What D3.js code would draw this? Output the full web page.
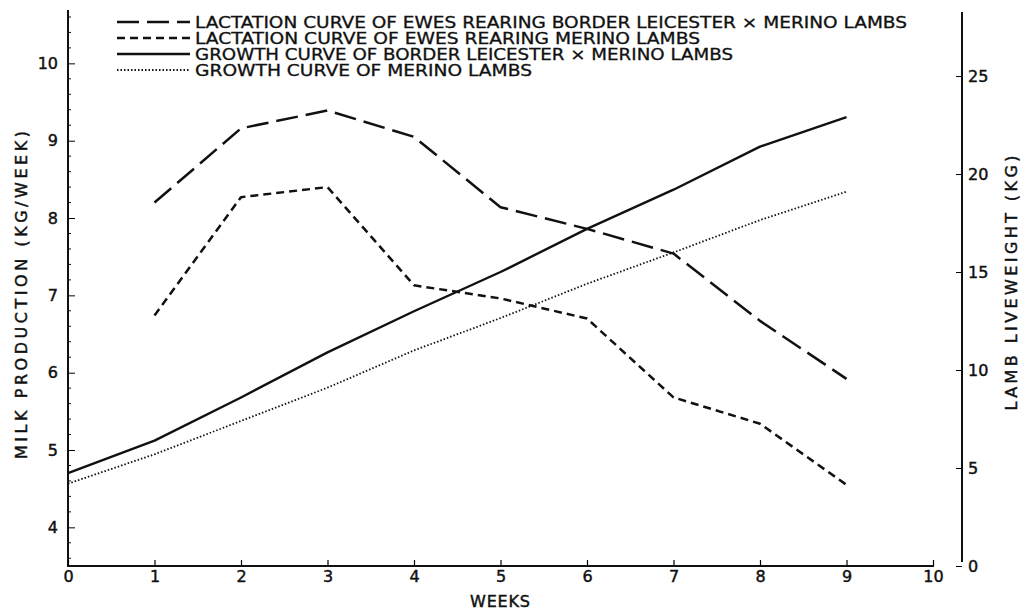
<!DOCTYPE html>
<html>
<head>
<meta charset="utf-8">
<script src="https://cdn.jsdelivr.net/npm/d3@7"></script>
<style>
  body { margin: 0; background: #fff; }
  svg text { font-family: "DejaVu Sans", sans-serif; fill: #111; }
</style>
</head>
<body>
<svg id="chart" width="1030" height="612"></svg>
<script>
// weeks and values
const weeks = [0, 1, 2, 3, 4, 5, 6, 7, 8, 9];
const milkBLxM = [null, 8.2, 9.16, 9.39, 9.05, 8.14, 7.86, 7.54, 6.67, 5.92];
const milkMerino = [null, 6.74, 8.27, 8.4, 7.13, 6.96, 6.7, 5.68, 5.34, 4.55];
const growthBLxM = [4.74, 6.4, 8.6, 10.9, 13.0, 15.0, 17.2, 19.2, 21.4, 22.9];
const growthMerino = [4.2, 5.7, 7.4, 9.1, 11.0, 12.65, 14.4, 16.0, 17.65, 19.1];

const xTicks = [0, 1, 2, 3, 4, 5, 6, 7, 8, 9, 10];
const leftTicks = [4, 5, 6, 7, 8, 9, 10];
const rightTicks = [0, 5, 10, 15, 20, 25];

const legendLabels = [
    "LACTATION CURVE OF EWES REARING BORDER LEICESTER \u00D7 MERINO LAMBS",
    "LACTATION CURVE OF EWES REARING MERINO LAMBS",
    "GROWTH CURVE OF BORDER LEICESTER \u00D7 MERINO LAMBS",
    "GROWTH CURVE OF MERINO LAMBS"
];

const svg = d3.select("#chart");
const ink = "#111";

// scales
const x = d3.scaleLinear().domain([0, 10]).range([68, 933]);
const yLeft = d3.scaleLinear().domain([3.5, 10.69]).range([566, 10]);
const yRight = d3.scaleLinear().domain([0, 28.37]).range([566, 10]);

// thicken text a little, the original lettering is heavy
function inkText(sel) {
    sel.attr("stroke", ink).attr("stroke-width", 0.45);
}

// left axis
const leftAxis = d3.axisLeft(yLeft).tickValues(leftTicks).tickSize(-7).tickPadding(16)
    .tickFormat(d3.format("d"));
const gL = svg.append("g").attr("transform", "translate(68,0)").call(leftAxis);
gL.select(".domain").remove();
gL.selectAll("text").style("font-size", "16px").attr("x", -10).call(inkText);
svg.append("line").attr("x1", 68).attr("x2", 68).attr("y1", 10).attr("y2", 566)
    .attr("stroke", ink).attr("stroke-width", 2);
// minor ticks on left axis
svg.append("g").selectAll("line")
    .data(d3.range(3.6, 10.65, 0.2).filter(v => Math.abs(v - Math.round(v)) > 0.05))
    .join("line")
    .attr("x1", 68).attr("x2", 71)
    .attr("y1", d => yLeft(d)).attr("y2", d => yLeft(d))
    .attr("stroke", ink).attr("stroke-width", 1);

// bottom axis
const bottomAxis = d3.axisBottom(x).tickValues(xTicks).tickSize(-6).tickPadding(5)
    .tickFormat(d3.format("d"));
const gB = svg.append("g").attr("transform", "translate(0,566)").call(bottomAxis);
gB.select(".domain").remove();
gB.selectAll("text").style("font-size", "16px").call(inkText);
gB.selectAll(".tick line").attr("stroke-width", 1.2);
svg.append("line").attr("x1", 67).attr("x2", 934).attr("y1", 566).attr("y2", 566)
    .attr("stroke", ink).attr("stroke-width", 2);

// right axis
const rightAxis = d3.axisRight(yRight).tickValues(rightTicks).tickSize(-6).tickPadding(12)
    .tickFormat(d3.format("d"));
const gR = svg.append("g").attr("transform", "translate(962,0)").call(rightAxis);
gR.select(".domain").remove();
gR.selectAll("text").style("font-size", "16px").attr("x", 6).call(inkText);
svg.append("line").attr("x1", 962).attr("x2", 962).attr("y1", 12).attr("y2", 562)
    .attr("stroke", ink).attr("stroke-width", 2);

// axis titles
svg.append("text")
    .attr("transform", "translate(27,295) rotate(-90)")
    .attr("text-anchor", "middle")
    .attr("textLength", 328).attr("lengthAdjust", "spacing")
    .style("font-size", "16px")
    .call(inkText)
    .text("MILK PRODUCTION  (KG/WEEK)");
svg.append("text")
    .attr("transform", "translate(1017,283) rotate(-90)")
    .attr("text-anchor", "middle")
    .attr("textLength", 255).attr("lengthAdjust", "spacing")
    .style("font-size", "16px")
    .call(inkText)
    .text("LAMB LIVEWEIGHT  (KG)");
svg.append("text")
    .attr("x", 500).attr("y", 607)
    .attr("text-anchor", "middle")
    .attr("textLength", 60).attr("lengthAdjust", "spacing")
    .style("font-size", "16px")
    .call(inkText)
    .text("WEEKS");

// series
const styles = [
    { dash: "22,8", width: 2.5 },
    { dash: "8,5", width: 2.5 },
    { dash: null, width: 2.4 },
    { dash: "1.5,2", width: 1.8 }
];
const series = [
    { values: milkBLxM, y: yLeft },
    { values: milkMerino, y: yLeft },
    { values: growthBLxM, y: yRight },
    { values: growthMerino, y: yRight }
];

series.forEach((s, i) => {
    const pts = weeks.map((w, j) => [w, s.values[j]]).filter(p => p[1] != null);
    const line = d3.line().x(d => x(d[0])).y(d => s.y(d[1]));
    svg.append("path")
        .datum(pts)
        .attr("d", line)
        .attr("fill", "none")
        .attr("stroke", ink)
        .attr("stroke-width", styles[i].width)
        .attr("stroke-dasharray", styles[i].dash)
        .attr("stroke-linejoin", "round");
});

// legend
const legendEnds = [907, 700, 733, 532];
const legend = svg.append("g");
legendLabels.forEach((label, i) => {
    const yy = 22 + i * 16;
    legend.append("line")
        .attr("x1", 117).attr("x2", 190).attr("y1", yy).attr("y2", yy)
        .attr("stroke", ink)
        .attr("stroke-width", styles[i].width)
        .attr("stroke-dasharray", styles[i].dash);
    legend.append("text")
        .attr("x", 195).attr("y", yy + 6)
        .attr("textLength", legendEnds[i] - 195)
        .attr("lengthAdjust", "spacingAndGlyphs")
        .style("font-size", "15px")
        .attr("stroke", ink).attr("stroke-width", 0.3)
        .text(label);
});
</script>
</body>
</html>
